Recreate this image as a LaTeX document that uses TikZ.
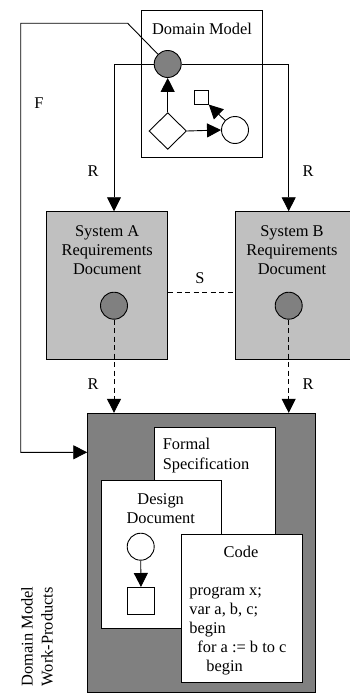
\documentclass[tikz,border=0pt]{standalone}
\usepackage{fontspec}
\setmainfont{Liberation Serif}
\usetikzlibrary{arrows.meta,shapes.geometric}
\definecolor{midgray}{HTML}{808080}
\definecolor{lightgray}{HTML}{C0C0C0}
\begin{document}
\begin{tikzpicture}[x=1pt,y=-1pt,line width=0.9pt,
  every node/.style={font=\fontsize{16.4}{19}\selectfont},
  box/.style={draw,rectangle,inner sep=0pt},
  dot/.style={draw,circle,inner sep=0pt,minimum size=27pt},
  sq/.style={draw,rectangle,inner sep=0pt,minimum size=13.7pt},
  txt/.style={inner sep=0pt,anchor=base},
  dsh/.style={dash pattern=on 5pt off 3.5pt},
  arr/.style={-{Triangle[length=14pt 0,width=14pt 0]}}]
\useasboundingbox (0,0) rectangle (349,693);
% Domain model
\node[box,minimum width=120.7pt,minimum height=147pt] (dm) at (201.65,83.5) {};
\node[txt] (dmt) at (202,35) {Domain Model};
\node[dot,fill=midgray] (dmc) at (167.7,64) {};
\node[draw,diamond,inner sep=0pt,minimum width=37.5pt,minimum height=36.7pt] (dia) at (167.7,131) {};
\node[dot] (smc) at (235,130) {};
\node[sq] (smsq) at (201.5,97.5) {};
\draw[arr] (dia.north) -- (dmc.south);
\draw[arr] (dia.east) -- (smc.west);
\draw[arr] (smc) -- (smsq);
% System boxes
\node[box,fill=lightgray,minimum width=121pt,minimum height=147.6pt] (boxA) at (107.2,285.5) {};
\node[box,fill=lightgray,minimum width=116pt,minimum height=147.6pt] (boxB) at (293.5,285.5) {};
\node[txt] (ta1) at (107.2,236) {System A};
\node[txt] (ta2) at (107.2,255) {Requirements};
\node[txt] (ta3) at (107.2,274) {Document};
\node[txt] (tb1) at (292,236) {System B};
\node[txt] (tb2) at (292,255) {Requirements};
\node[txt] (tb3) at (292,274) {Document};
\node[dot,fill=midgray] (ca) at (114,305.7) {};
\node[dot,fill=midgray] (cb) at (288.7,305.7) {};
% Work products
\node[box,fill=midgray,minimum width=227.3pt,minimum height=279pt] (big) at (201.35,552.8) {};
\node[box,fill=white,minimum width=121pt,minimum height=173.3pt,anchor=north west] (fs) at (154.3,426.7) {};
\node[txt,anchor=base west] (fs1) at (162.3,449.3) {Formal};
\node[txt,anchor=base west] (fs2) at (162.3,469.5) {Specification};
\node[box,fill=white,minimum width=120.6pt,minimum height=147.7pt,anchor=north west] (dd) at (100.7,480) {};
\node[txt] (dd1) at (160.7,504) {Design};
\node[txt] (dd2) at (160.7,523) {Document};
\node[dot] (ddc) at (140.7,546.7) {};
\node[sq,minimum size=26.7pt] (ddsq) at (141,600.8) {};
\draw[arr] (ddc.south) -- (ddsq.north);
\node[box,fill=white,minimum width=121.3pt,minimum height=147.7pt,anchor=north west] (code) at (181,534) {};
\node[txt] (ct) at (241,557) {Code};
\node[txt,anchor=base west] (c1) at (189,595) {program x;};
\node[txt,anchor=base west] (c2) at (189,614) {var a, b, c;};
\node[txt,anchor=base west] (c3) at (189,633) {begin};
\node[txt,anchor=base west] (c4) at (197,652) {for a := b to c};
\node[txt,anchor=base west] (c5) at (206,671) {begin};
\node[txt,anchor=base west,rotate=90] (wp1) at (32.5,686.7) {Domain Model};
\node[txt,anchor=base west,rotate=90] (wp2) at (52.5,686.7) {Work-Products};
% connectors
\draw[arr] (dmc.west) -| (ca |- boxA.north);
\draw[arr] (dmc.east) -| (cb |- boxB.north);
\coordinate (f1) at (127.7,23.3);
\coordinate (f2) at (20.7,23.3);
\coordinate (f3) at (20.7,452.3);
\draw[arr] (dmc.135) -- (f1) -- (f2) -- (f3) -- (f3 -| big.west);
\coordinate (sy) at (0,292);
\draw[dsh] (boxA.east |- sy) -- (boxB.west |- sy);
\draw[arr,dsh] (ca.south) -- (ca |- big.north);
\draw[arr,dsh] (cb.south) -- (cb |- big.north);
% labels
\node[txt] (lf) at (39,108.5) {F};
\node[txt] (lr1) at (93,176) {R};
\node[txt] (lr2) at (308,176) {R};
\node[txt] (ls) at (200,283.8) {S};
\node[txt] (lr3) at (93,389.5) {R};
\node[txt] (lr4) at (308,389.5) {R};
\end{tikzpicture}
\end{document}
